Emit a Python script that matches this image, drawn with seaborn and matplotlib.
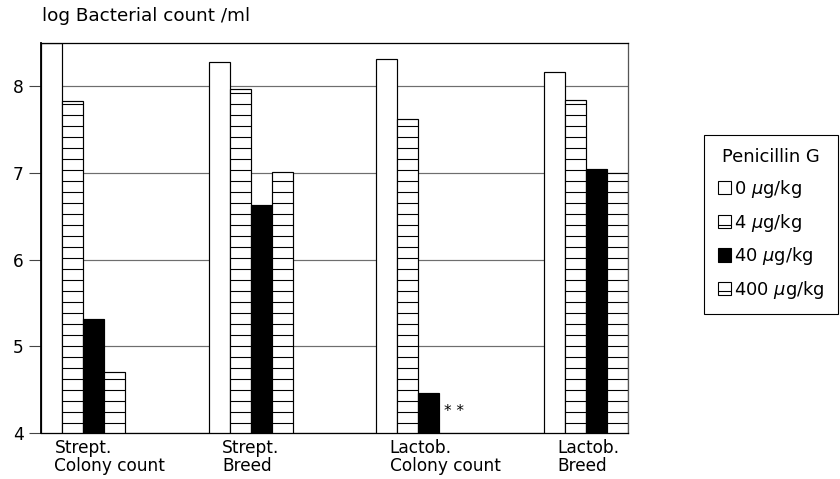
import numpy as np
import pandas as pd
import matplotlib
matplotlib.use("Agg")
import matplotlib.pyplot as plt
from matplotlib.patches import Patch
import seaborn as sns

# Groups (x categories) and penicillin doses (hue levels)
groups = ["Strept.\nColony count", "Strept.\nBreed", "Lactob.\nColony count", "Lactob.\nBreed"]
doses = ["0 $\\mu$g/kg", "4 $\\mu$g/kg", "40 $\\mu$g/kg", "400 $\\mu$g/kg"]

# log bacterial counts per ml for each dose
dose_0 = [8.50, 8.28, 8.32, 8.16]
dose_4 = [7.83, 7.97, 7.62, 7.84]
dose_40 = [5.31, 6.63, 4.46, 7.05]
dose_400 = [4.70, 7.01, np.nan, 7.00]

y_ticks = [4, 5, 6, 7, 8]
y_limits = (4, 8.5)

DPI = 66
W, H = 840, 479

sns.set_theme(style="white")
plt.rcParams["font.family"] = ["DejaVu Sans"]
plt.rcParams["hatch.linewidth"] = 1.2
plt.rcParams["mathtext.fontset"] = "dejavusans"
plt.rcParams["text.color"] = "black"
plt.rcParams["xtick.color"] = "black"
plt.rcParams["ytick.color"] = "black"

rows = []
for dose, vals in zip(doses, [dose_0, dose_4, dose_40, dose_400]):
    for g, v in zip(groups, vals):
        rows.append({"group": g, "dose": dose, "value": v})
df = pd.DataFrame(rows)

fig = plt.figure(figsize=(W / DPI, H / DPI), dpi=DPI)
ax = fig.add_axes([41 / W, 1 - 433 / H, (628 - 41) / W, (433 - 43) / H])

fills = ["white", "white", "black", "white"]
hatches = ["", "-", "", "-"]
palette = dict(zip(doses, fills))

sns.barplot(data=df, x="group", y="value", hue="dose", order=groups, hue_order=doses,
            palette=palette, width=0.5, gap=0, edgecolor="black", linewidth=1.3,
            saturation=1, ax=ax, err_kws={"linewidth": 0}, legend=False)

for cont, h in zip(ax.containers, hatches):
    for bar in cont:
        bar.set_hatch(h)
        bar.set_edgecolor("black")

FS = 18.5
ax.set_ylim(*y_limits)
ax.set_xlim(-0.25, 3.25)
ax.set_yticks(y_ticks)
ax.set_yticklabels([str(t) for t in y_ticks], fontsize=FS)
ax.tick_params(axis="y", length=13, width=1.2, color="#444444", pad=6, left=True,
               labelcolor="black")
ax.set_xticks([i - 0.17 for i in range(len(groups))])
ax.set_xticklabels(groups, fontsize=FS, ha="left", linespacing=1.0)
ax.tick_params(axis="x", length=0, pad=7, labelcolor="black")
ax.set_xlabel("")
ax.set_ylabel("")

ax.yaxis.grid(True, color="#6e6e6e", linewidth=1.3)
ax.set_axisbelow(True)
for side, sp in ax.spines.items():
    sp.set_visible(True)
    sp.set_color("black")
    sp.set_linewidth(1.4)
ax.spines["left"].set_linewidth(2.0)
ax.spines["right"].set_color("#555555")

# significance marker where the 400 µg/kg bar is absent
ax.text(2 + 0.21, 4.25, "* *", ha="center", va="center", fontsize=FS - 2)

fig.text(42 / W, 1 - 16 / H, "log Bacterial count /ml", fontsize=FS + 1.5,
         ha="left", va="center")

handles = [Patch(facecolor=f, edgecolor="black", hatch=h, linewidth=1.2)
           for f, h in zip(fills, hatches)]
leg = ax.legend(handles, doses, title="Penicillin G", fontsize=FS + 1, title_fontsize=FS + 1,
                loc="upper right", bbox_to_anchor=(838 / W, 1 - 135 / H),
                bbox_transform=fig.transFigure, borderaxespad=0, frameon=True,
                fancybox=False, edgecolor="black", framealpha=1,
                handlelength=0.75, handleheight=0.75, handletextpad=0.15,
                labelspacing=0.65, borderpad=0.75)
leg.get_frame().set_linewidth(1.2)
leg.get_title().set_color("black")

fig.savefig("out.png", dpi=DPI, facecolor="white")
